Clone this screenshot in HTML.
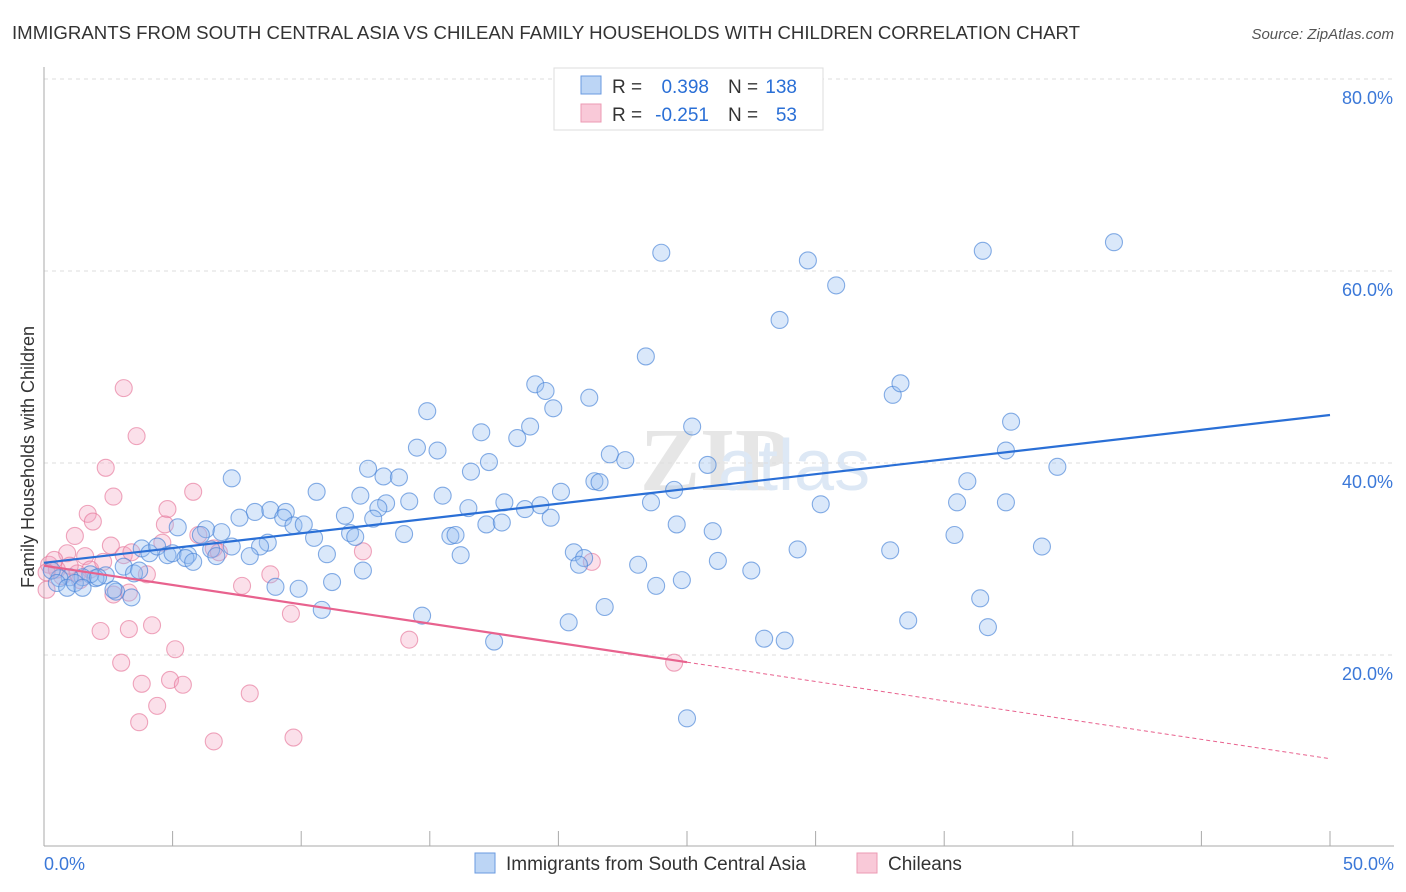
<!DOCTYPE html>
<html><head><meta charset="utf-8"><style>
body{margin:0;background:#fff;font-family:"Liberation Sans",sans-serif;}
svg{display:block}
</style></head><body>
<svg id="chart" width="1406" height="892">
<text x="12" y="39" font-size="18" fill="#333" textLength="1068" lengthAdjust="spacingAndGlyphs">IMMIGRANTS FROM SOUTH CENTRAL ASIA VS CHILEAN FAMILY HOUSEHOLDS WITH CHILDREN CORRELATION CHART</text>
<text x="1394" y="39" font-size="15" fill="#555" text-anchor="end" font-style="italic">Source: ZipAtlas.com</text>
<text x="640" y="490" font-size="90" fill="#e6e6e6" font-family="Liberation Serif" font-weight="bold">ZIP</text>
<text x="718" y="490" font-size="72" fill="#dde8f5">atlas</text>
<g id="grid"></g>
<g id="axes"></g>
<g id="pts"></g>
<g id="lines"></g>
<text transform="translate(34,457) rotate(-90)" font-size="18" fill="#333" text-anchor="middle">Family Households with Children</text>
<g>
<rect x="554" y="68" width="269" height="62" fill="#fff" stroke="#ddd"/>
<rect x="581" y="76" width="20" height="18" fill="#bcd5f5" stroke="#6a9ae0"/>
<rect x="581" y="104" width="20" height="18" fill="#f9c9d8" stroke="#ec9ab3"/>
<text x="612" y="93" font-size="19" fill="#333">R =</text>
<text x="709" y="93" font-size="19" fill="#2a6fd6" text-anchor="end">0.398</text>
<text x="728" y="93" font-size="19" fill="#333">N =</text>
<text x="797" y="93" font-size="19" fill="#2a6fd6" text-anchor="end">138</text>
<text x="612" y="121" font-size="19" fill="#333">R =</text>
<text x="709" y="121" font-size="19" fill="#2a6fd6" text-anchor="end">-0.251</text>
<text x="728" y="121" font-size="19" fill="#333">N =</text>
<text x="797" y="121" font-size="19" fill="#2a6fd6" text-anchor="end">53</text>
</g>
<g>
<rect x="475" y="853" width="20" height="20" fill="#bcd5f5" stroke="#6a9ae0"/>
<text x="506" y="870" font-size="19" fill="#333">Immigrants from South Central Asia</text>
<rect x="857" y="853" width="20" height="20" fill="#f9c9d8" stroke="#ec9ab3"/>
<text x="888" y="870" font-size="19" fill="#333">Chileans</text>
</g>
</svg>
<script>
const yTicks=[20,40,60,80];
const yTickLabels=["20.0%","40.0%","60.0%","80.0%"];
const xTickLabels=["0.0%","50.0%"];
const blueX=[24.0,29.7,36.5,41.6,30.8,28.6,23.4,19.1,19.5,21.2,19.8,14.9,17.0,18.4,18.9,25.2,14.5,15.3,22.0,22.6,17.3,16.6,12.6,13.2,13.8,7.3,25.8,21.4,21.6,15.5,12.3,10.6,20.1,17.9,18.7,19.3,13.3,14.2,13.0,16.5,23.6,24.5,30.2,33.0,33.3,37.6,37.4,39.4,35.9,35.5,37.4,8.2,7.6,8.8,9.4,9.3,9.7,10.1,11.7,12.8,11.9,12.1,14.0,15.8,16.0,17.2,17.8,19.7,24.6,26.0,6.3,5.2,6.1,6.9,10.5,8.7,8.4,7.3,8.0,3.8,4.1,4.4,4.8,5.0,5.6,5.5,5.8,6.5,6.7,11.0,16.2,20.6,21.0,20.8,26.2,29.3,32.9,35.4,38.8,3.1,3.5,3.7,2.4,2.0,1.8,1.5,1.0,0.6,0.3,0.5,0.9,1.2,1.5,2.1,2.8,3.4,2.7,9.0,9.9,11.2,12.4,23.1,24.8,23.8,27.5,21.8,20.4,14.7,10.8,17.5,28.0,28.8,33.6,36.7,36.4,25.0];
const blueY=[61.9,61.1,62.1,63.0,58.5,54.9,51.1,48.2,47.5,46.8,45.7,45.4,43.2,42.6,43.8,43.8,41.6,41.3,40.9,40.3,40.1,39.1,39.4,38.6,38.5,38.4,39.8,38.1,38.0,36.6,36.6,37.0,37.0,35.9,35.2,35.6,35.8,36.0,35.3,35.3,35.9,37.2,35.7,47.1,48.3,44.3,41.3,39.6,38.1,35.9,35.9,34.9,34.3,35.1,34.9,34.3,33.5,33.6,34.5,34.2,32.7,32.3,32.6,32.4,32.5,33.6,33.8,34.3,33.6,32.9,33.1,33.3,32.5,32.8,32.2,31.7,31.3,31.3,30.3,31.1,30.6,31.3,30.4,30.6,30.4,30.1,29.7,31.0,30.3,30.5,30.4,30.7,30.1,29.4,29.8,31.0,30.9,32.5,31.3,29.2,28.5,28.8,28.3,28.0,28.4,28.1,28.1,28.0,28.8,27.5,27.0,27.5,27.0,28.1,26.6,26.0,26.8,27.1,26.9,27.6,28.8,29.4,27.8,27.2,28.8,25.0,23.4,24.1,24.7,21.4,21.7,21.5,23.6,22.9,25.9,13.4];
const pinkX=[3.1,3.6,2.4,2.7,5.8,4.8,1.7,1.9,1.2,0.9,1.6,2.6,3.1,3.4,4.0,4.7,4.6,6.0,6.6,6.8,12.4,21.3,7.7,8.8,9.6,4.2,3.3,2.2,5.1,14.2,3.0,3.8,4.9,5.4,4.4,3.7,8.0,6.6,9.7,24.5,0.2,0.5,0.7,0.1,1.3,1.8,2.3,1.0,0.4,0.1,2.7,3.3,1.4];
const pinkY=[47.8,42.8,39.5,36.5,37.0,35.2,34.7,33.9,32.4,30.6,30.3,31.4,30.4,30.7,28.4,33.6,31.7,32.5,31.1,30.7,30.8,29.7,27.2,28.4,24.3,23.1,22.7,22.5,20.6,21.6,19.2,17.0,17.4,16.9,14.7,13.0,16.0,11.0,11.4,19.2,29.4,28.9,28.2,26.8,28.5,28.9,29.7,29.3,29.9,28.6,26.3,26.5,27.8];
const blueTrend=[29.6,45.0];
const pinkTrend=[29.3,9.2];
const pinkSolidEnd=25.0;

const NS="http://www.w3.org/2000/svg";
const X=v=>44+v*25.72, Y=v=>847-v*9.6;
function mk(tag,attrs,parent){const e=document.createElementNS(NS,tag);for(const k in attrs)e.setAttribute(k,attrs[k]);document.getElementById(parent).appendChild(e);return e;}
yTicks.forEach((t,i)=>{
  const g=mk('line',{x1:44,x2:1394,y1:Y(t),y2:Y(t),stroke:'#ddd','stroke-dasharray':'4,4'},'grid');
  
  
  const l=mk('text',{x:1393,y:Y(t)+25,'font-size':18,fill:'#3b78d8','text-anchor':'end'},'grid');
  l.textContent=yTickLabels[i];
  
  
});
const tl=mk('line',{x1:44,x2:1394,y1:79,y2:79,stroke:'#ddd','stroke-dasharray':'4,4'},'grid');


const ya=mk('line',{x1:44,x2:44,y1:67,y2:846,stroke:'#aaa'},'axes');


const xa=mk('line',{x1:44,x2:1394,y1:846,y2:846,stroke:'#aaa'},'axes');


for(let i=0;i<=10;i++){const t=mk('line',{x1:X(i*5),x2:X(i*5),y1:831,y2:846,stroke:'#aaa'},'axes');

}
const x0=mk('text',{x:44,y:870,'font-size':18,fill:'#3b78d8'},'axes');x0.textContent=xTickLabels[0];


const x1=mk('text',{x:1394,y:870,'font-size':18,fill:'#3b78d8','text-anchor':'end'},'axes');x1.textContent=xTickLabels[1];


pinkX.forEach((v,i)=>{const c=mk('circle',{cx:X(v),cy:Y(pinkY[i]),r:8.5,fill:'rgba(244,160,190,0.32)',stroke:'rgba(230,120,155,0.65)','stroke-width':1.1},'pts');

});
blueX.forEach((v,i)=>{const c=mk('circle',{cx:X(v),cy:Y(blueY[i]),r:8.5,fill:'rgba(150,190,240,0.35)',stroke:'rgba(70,130,215,0.65)','stroke-width':1.1},'pts');

});
const bl=mk('line',{x1:X(0),y1:Y(blueTrend[0]),x2:X(50),y2:Y(blueTrend[1]),stroke:'#2a6fd6','stroke-width':2.2},'lines');


const py=v=>pinkTrend[0]+(pinkTrend[1]-pinkTrend[0])*v/50;
const ps=mk('line',{x1:X(0),y1:Y(pinkTrend[0]),x2:X(pinkSolidEnd),y2:Y(py(pinkSolidEnd)),stroke:'#e8628e','stroke-width':2.2},'lines');


const pd=mk('line',{x1:X(pinkSolidEnd),y1:Y(py(pinkSolidEnd)),x2:X(50),y2:Y(pinkTrend[1]),stroke:'#e8628e','stroke-width':1,'stroke-dasharray':'4,3'},'lines');


</script>
</body></html>
